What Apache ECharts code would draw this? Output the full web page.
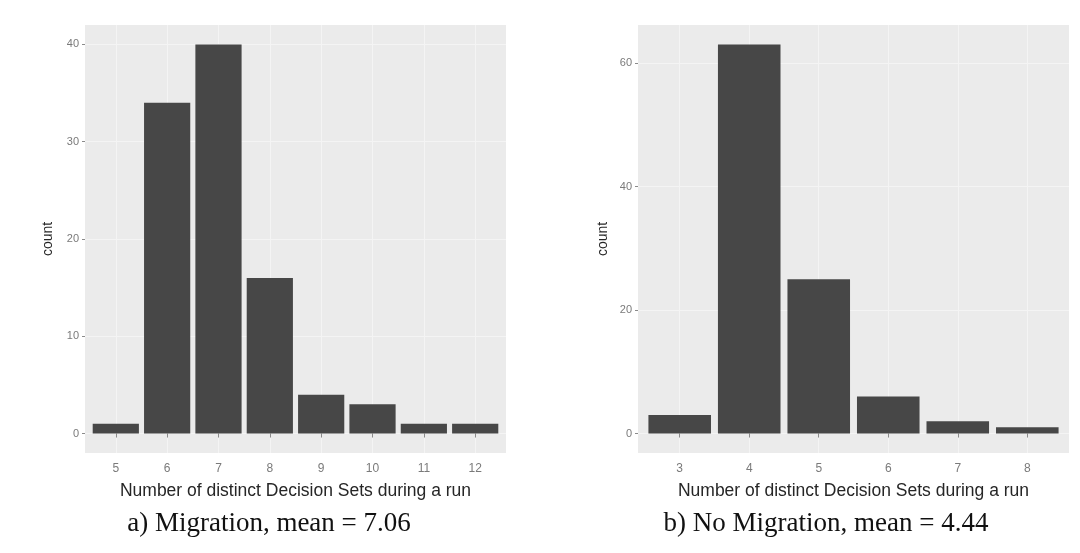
<!DOCTYPE html>
<html lang="en">
<head>
  <meta charset="UTF-8">
  <title>Decision Sets</title>
  <script src="https://cdn.jsdelivr.net/npm/echarts@6/dist/echarts.min.js"></script>
  <style>
    html, body { margin:0; padding:0; background:#fff; }
    #main { width:1080px; height:553px; }
  </style>
</head>
<body>
<div id="main"></div>
<script>
    // a) Migration
    var setsA = [5, 6, 7, 8, 9, 10, 11, 12];
    var countA = [1, 34, 40, 16, 4, 3, 1, 1];
    var yTicksA = [0, 10, 20, 30, 40];
    // b) No Migration
    var setsB = [3, 4, 5, 6, 7, 8];
    var countB = [3, 63, 25, 6, 2, 1];
    var yTicksB = [0, 20, 40, 60];

    var captionA = 'a) Migration, mean = 7.06';
    var captionB = 'b) No Migration, mean = 4.44';
    var xTitle = 'Number of distinct Decision Sets during a run';

    var chart = echarts.init(document.getElementById('main'));

    function pairs(xs, ys){
      return xs.map(function(x, i){ return [x, ys[i]]; });
    }

    function xAxisFor(idx, sets){
      return {
        type:'value', gridIndex:idx,
        min:sets[0] - 0.6, max:sets[sets.length - 1] + 0.6,
        name:xTitle, nameLocation:'middle', nameGap:29,
        nameTextStyle:{color:'#262626', fontSize:17.5, fontFamily:'Liberation Sans'},
        axisLine:{show:false},
        axisTick:{show:true, length:4, lineStyle:{color:'#8a8a8a'}, customValues:sets},
        axisLabel:{color:'#7a7a7a', fontSize:12, margin:10, fontFamily:'Liberation Sans', customValues:sets},
        splitLine:{show:true, lineStyle:{color:'#f4f4f4', width:1}}
      };
    }

    function yAxisFor(idx, counts, ticks){
      var top = Math.max.apply(null, counts);
      return {
        type:'value', gridIndex:idx,
        min:-top * 0.05, max:top * 1.05,
        name:'count', nameLocation:'middle', nameGap:idx === 0 ? 30 : 28, nameRotate:90,
        nameTextStyle:{color:'#262626', fontSize:14, fontFamily:'Liberation Sans'},
        axisLine:{show:false},
        axisTick:{show:true, length:3, lineStyle:{color:'#8a8a8a'}, customValues:ticks},
        axisLabel:{color:'#7a7a7a', fontSize:11, margin:6, fontFamily:'Liberation Sans', customValues:ticks},
        splitLine:{show:true, lineStyle:{color:'#f4f4f4', width:1}}
      };
    }

    chart.setOption({
      backgroundColor:'#fff',
      animation:false,
      grid:[
        {left:85, top:25, width:421, height:428, show:true, backgroundColor:'#ebebeb', borderWidth:0},
        {left:638, top:25, width:431, height:428, show:true, backgroundColor:'#ebebeb', borderWidth:0}
      ],
      xAxis:[xAxisFor(0, setsA), xAxisFor(1, setsB)],
      yAxis:[yAxisFor(0, countA, yTicksA), yAxisFor(1, countB, yTicksB)],
      series:[
        {type:'bar', xAxisIndex:0, yAxisIndex:0, barWidth:'90%', data:pairs(setsA, countA),
         itemStyle:{color:'#474747'}},
        {type:'bar', xAxisIndex:1, yAxisIndex:1, barWidth:'90%', data:pairs(setsB, countB),
         itemStyle:{color:'#474747'}}
      ],
      graphic:[
        {type:'text', x:269, y:524, style:{text:captionA, fill:'#111', font:'27px "Liberation Serif"', textAlign:'center', textVerticalAlign:'middle'}},
        {type:'text', x:826, y:524, style:{text:captionB, fill:'#111', font:'27px "Liberation Serif"', textAlign:'center', textVerticalAlign:'middle'}}
      ]
    });
</script>
</body>
</html>
